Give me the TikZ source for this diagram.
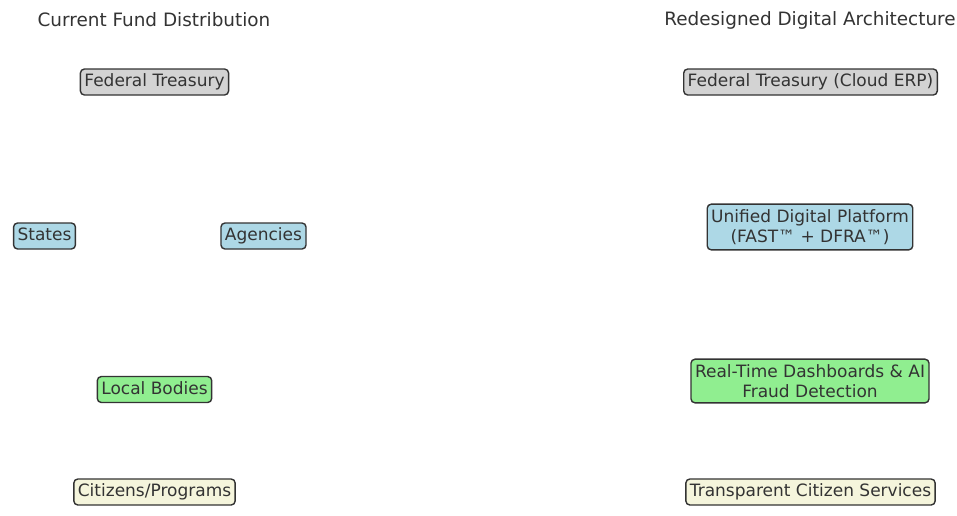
\documentclass[tikz,border=0pt]{standalone}
\usepackage{fontspec}
\setmainfont{DejaVu Sans}
\definecolor{lgray}{HTML}{D3D3D3}
\definecolor{lblue}{HTML}{ADD8E6}
\definecolor{lgreen}{HTML}{90EE90}
\definecolor{lbeige}{HTML}{F5F5DC}
\definecolor{txt}{HTML}{333333}
\begin{document}
\begin{tikzpicture}[x=1pt,y=-1pt,
  box/.style={draw=black!80, line width=1.4pt, rounded corners=4pt, inner xsep=4pt, inner ysep=5pt, align=center, font=\fontsize{17}{20.5}\selectfont, text=txt},
  one/.style={box, text height=12.5pt, text depth=3.5pt},
  ttl/.style={font=\fontsize{18.4}{21}\selectfont, text=txt}]
\useasboundingbox (0,0) rectangle (957,515);
\node[ttl] (t1) at (154,20) {Current Fund Distribution};
\node[ttl] (t2) at (810,20) {Redesigned Digital Architecture};
\node[one, fill=lgray] (ft) at (154.5,82) {Federal Treasury};
\node[one, fill=lblue] (st) at (44.5,236) {States};
\node[one, fill=lblue] (ag) at (263.5,236) {Agencies};
\node[one, fill=lgreen] (lb) at (154.5,389.5) {Local Bodies};
\node[one, fill=lbeige] (cp) at (154.5,492) {Citizens/Programs};
\node[one, fill=lgray] (ft2) at (810.5,82) {Federal Treasury (Cloud ERP)};
\node[box, fill=lblue] (ud) at (810,227) {Unified Digital Platform\\(FAST™ + DFRA™)};
\node[box, fill=lgreen] (rt) at (810,381) {Real-Time Dashboards \& AI\\Fraud Detection};
\node[one, fill=lbeige] (tc) at (810.5,492) {Transparent Citizen Services};
\end{tikzpicture}
\end{document}
